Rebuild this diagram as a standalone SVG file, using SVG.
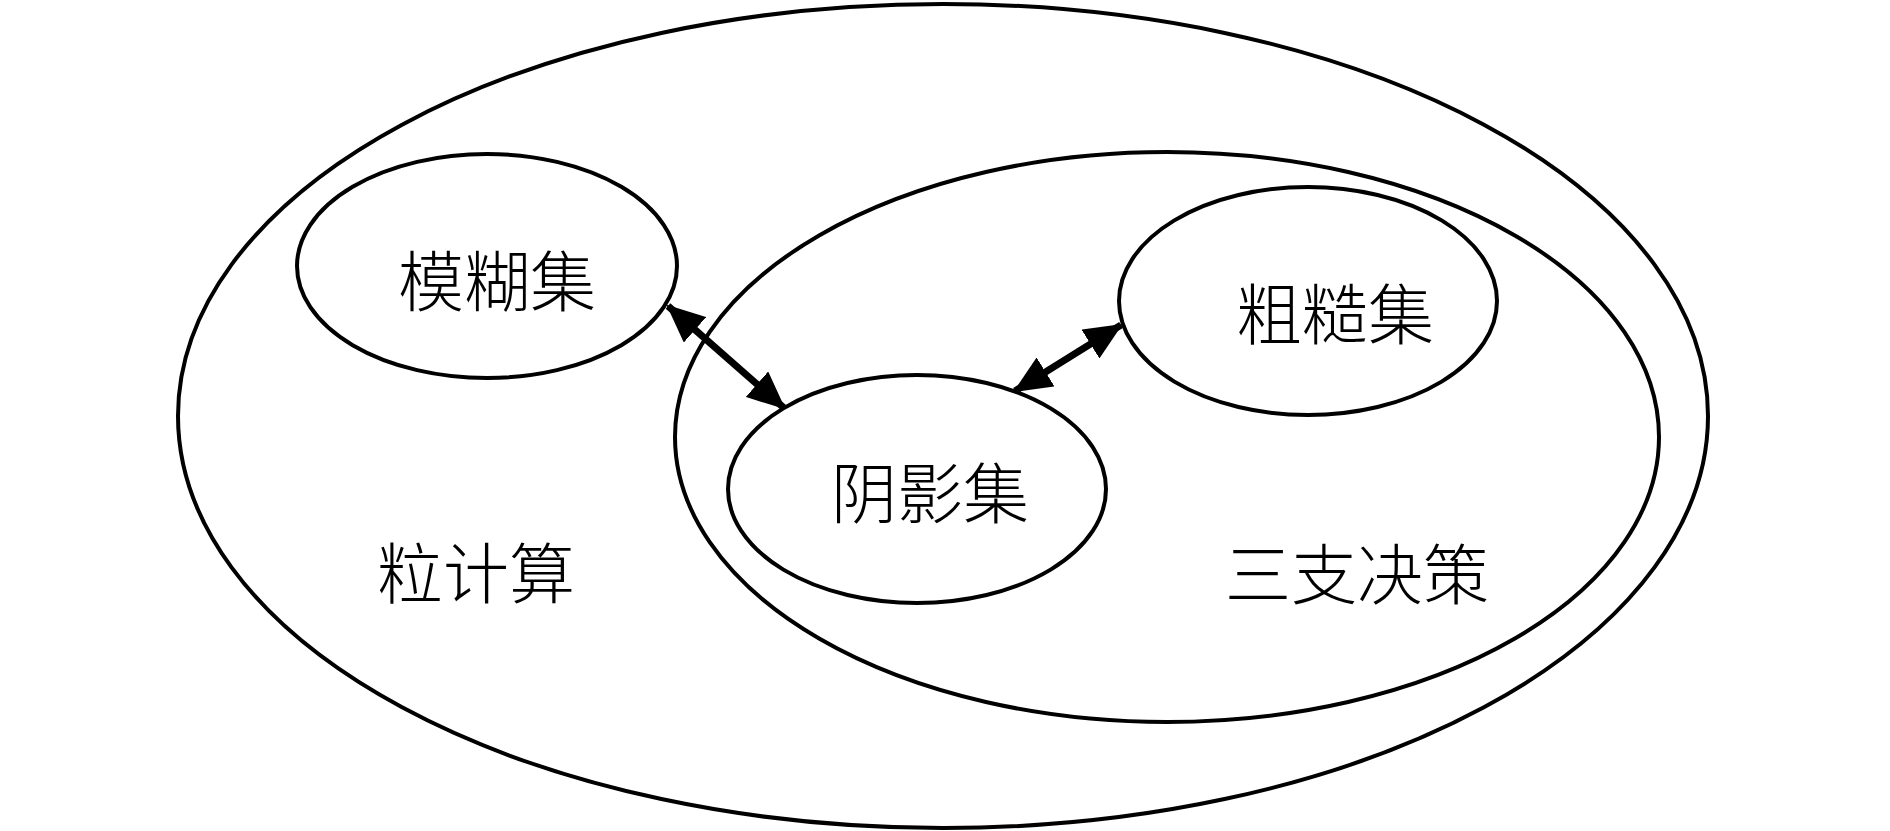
<svg xmlns="http://www.w3.org/2000/svg" width="1890" height="831" viewBox="0 0 1890 831">
<style>
.ring{fill:none;stroke:#000;stroke-width:4}
.node{fill:#fff;stroke:#000;stroke-width:4}
.lbl{font-family:"Noto Sans CJK SC","Noto Sans CJK JP",sans-serif;font-size:66px;font-weight:300;fill:#000;text-anchor:middle;dominant-baseline:central}
.conn{stroke:#000;stroke-width:7;fill:none;marker-start:url(#ah);marker-end:url(#ah)}
</style>
<defs>
<marker id="ah" viewBox="0 0 38 34" refX="36" refY="17" markerWidth="38" markerHeight="34" markerUnits="userSpaceOnUse" orient="auto-start-reverse">
<path d="M0,0 L38,17 L0,34 Z" fill="#000"/>
</marker>
</defs>
<rect width="1890" height="831" fill="#fff"/>
<g id="granular-computing">
<ellipse class="ring" cx="943" cy="416" rx="765" ry="412"/>
<text class="lbl" x="476" y="569">粒计算</text>
</g>
<g id="three-way-decision">
<ellipse class="ring" cx="1167" cy="437" rx="492" ry="285"/>
<text class="lbl" x="1357" y="570">三支决策</text>
</g>
<g id="fuzzy-set">
<ellipse class="node" cx="487" cy="266" rx="190" ry="112"/>
<text class="lbl" x="497" y="277">模糊集</text>
</g>
<g id="rough-set">
<ellipse class="node" cx="1308" cy="301" rx="189" ry="114"/>
<text class="lbl" x="1335" y="310">粗糙集</text>
</g>
<g id="shadowed-set">
<ellipse class="node" cx="917" cy="489" rx="189" ry="114"/>
<text class="lbl" x="930" y="489">阴影集</text>
</g>
<g id="connectors">
<line class="conn" x1="668" y1="306" x2="784" y2="408"/>
<line class="conn" x1="1121" y1="325" x2="1015" y2="391"/>
</g>
</svg>
